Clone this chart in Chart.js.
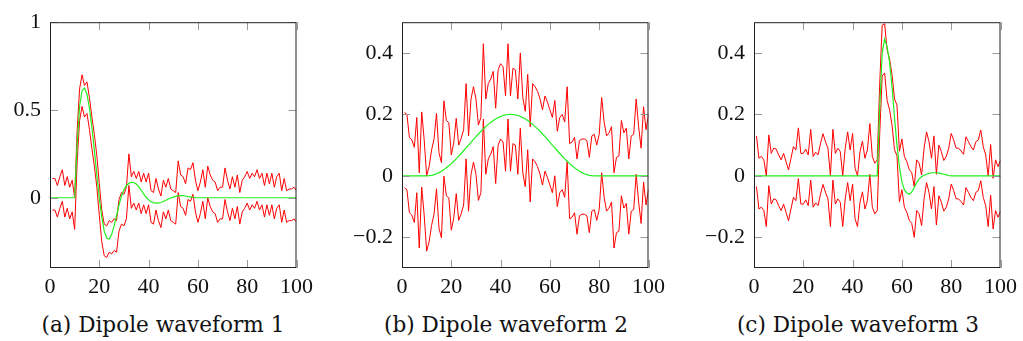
<!DOCTYPE html>
<html>
<head>
<meta charset="utf-8">
<script src="https://cdn.jsdelivr.net/npm/chart.js@4.4.0/dist/chart.umd.min.js"></script>
<style>
  body { margin: 0; background: #fff; }
  #wrap { position: relative; width: 1023px; height: 341px; overflow: hidden; }
  canvas { position: absolute; top: 0; }
  .cap { position: absolute; top: 313px; font-family: "DejaVu Serif", serif; font-size: 21.6px;
         line-height: 24px; color: #111; white-space: nowrap; transform: translateX(-50%); }
</style>
</head>
<body>
<div id="wrap">
  <canvas id="chA"></canvas>
  <canvas id="chB"></canvas>
  <canvas id="chC"></canvas>
  <div class="cap" id="capA"></div>
  <div class="cap" id="capB"></div>
  <div class="cap" id="capC"></div>
</div>
<script>
// tick labels and captions
const xTicks = [0, 20, 40, 60, 80, 100];
const yTicksA = [0, 0.5, 1];
const yTicksBC = [-0.2, 0, 0.2, 0.4];
const captions = ['(a) Dipole waveform 1', '(b) Dipole waveform 2', '(c) Dipole waveform 3'];

// green waveforms, x = 0..100
const greenA = [
  0, 0, 0, 0, 0, 0, 0, 0, 0, 0,
  0, 0.30, 0.52, 0.61, 0.625, 0.59, 0.51, 0.40, 0.27, 0.13,
  0.0, -0.11, -0.19, -0.23, -0.235, -0.21, -0.16, -0.10, -0.04, 0.01,
  0.045, 0.07, 0.083, 0.088, 0.087, 0.078, 0.063, 0.043, 0.022, 0.003,
  -0.012, -0.022, -0.028, -0.031, -0.03, -0.027, -0.021, -0.014, -0.007, -0.001,
  0.004, 0.008, 0.011, 0.012, 0.012, 0.01, 0.007, 0.005, 0.003, 0.001,
  0, 0, 0, 0, 0, 0, 0, 0, 0, 0,
  0, 0, 0, 0, 0, 0, 0, 0, 0, 0,
  0, 0, 0, 0, 0, 0, 0, 0, 0, 0,
  0, 0, 0, 0, 0, 0, 0, 0, 0, 0,
  0
];
const greenB = [
  0, 0, 0, 0, 0, 0, 0, 0, 0, 0,
  0, 0.0004, 0.0017, 0.0038, 0.0068, 0.0105, 0.015, 0.0202, 0.0261, 0.0326,
  0.0397, 0.0474, 0.0554, 0.0639, 0.0726, 0.0816, 0.0908, 0.1, 0.1092, 0.1184,
  0.1274, 0.1361, 0.1446, 0.1526, 0.1603, 0.1674, 0.1739, 0.1798, 0.185, 0.1895,
  0.1932, 0.1962, 0.1983, 0.1996, 0.2, 0.1996, 0.1983, 0.1962, 0.1932, 0.1895,
  0.185, 0.1798, 0.1739, 0.1674, 0.1603, 0.1526, 0.1446, 0.1361, 0.1274, 0.1184,
  0.1092, 0.1, 0.0908, 0.0816, 0.0726, 0.0639, 0.0554, 0.0474, 0.0397, 0.0326,
  0.0261, 0.0202, 0.015, 0.0105, 0.0068, 0.0038, 0.0017, 0.0004, 0, 0,
  0, 0, 0, 0, 0, 0, 0, 0, 0, 0,
  0, 0, 0, 0, 0, 0, 0, 0, 0, 0,
  0
];
const greenC = [
  0, 0, 0, 0, 0, 0, 0, 0, 0, 0,
  0, 0, 0, 0, 0, 0, 0, 0, 0, 0,
  0, 0, 0, 0, 0, 0, 0, 0, 0, 0,
  0, 0, 0, 0, 0, 0, 0, 0, 0, 0,
  0, 0, 0, 0, 0, 0, 0, 0, 0, 0,
  0, 0.22, 0.40, 0.445, 0.42, 0.37, 0.29, 0.19, 0.10, 0.03,
  -0.02, -0.045, -0.056, -0.06, -0.052, -0.038, -0.022, -0.01, -0.003, 0.002,
  0.005, 0.008, 0.01, 0.01, 0.01, 0.009, 0.007, 0.005, 0.003, 0.001,
  0, 0, 0, 0, 0, 0, 0, 0, 0, 0,
  0, 0, 0, 0, 0, 0, 0, 0, 0, 0,
  0
];

// red bounds, x = 1..100
const upperA = [
  0.11, 0.11, 0.07, 0.12, 0.16, 0.07, 0.12, 0.06, 0.10, 0.00,
  0.38, 0.62, 0.70, 0.64, 0.66, 0.57, 0.46, 0.36, 0.24, 0.08,
  -0.07, -0.15, -0.16, -0.13, -0.14, -0.12, -0.13, -0.01, 0.03, 0.02,
  0.06, 0.25, 0.12, 0.15, 0.11, 0.15, 0.09, 0.14, 0.09, 0.14,
  0.04, 0.03, 0.11, 0.05, 0.01, 0.10, 0.06, 0.11, 0.05, 0.04,
  0.03, 0.21, 0.13, 0.12, 0.08, 0.17, 0.16, 0.20, 0.10, 0.04,
  0.09, 0.16, 0.06, 0.18, 0.13, 0.10, 0.09, 0.04, 0.06, 0.06,
  0.17, 0.10, 0.05, 0.12, 0.06, 0.13, 0.03, 0.10, 0.12, 0.15,
  0.11, 0.14, 0.12, 0.16, 0.11, 0.14, 0.07, 0.14, 0.08, 0.14,
  0.06, 0.12, 0.14, 0.04, 0.11, 0.04, 0.05, 0.05, 0.06, 0.04
];
const lowerA = [
  -0.07, -0.07, -0.11, -0.06, -0.02, -0.11, -0.06, -0.12, -0.08, -0.18,
  0.20, 0.44, 0.52, 0.46, 0.48, 0.39, 0.28, 0.18, 0.06, -0.10,
  -0.25, -0.33, -0.34, -0.31, -0.32, -0.30, -0.31, -0.19, -0.15, -0.16,
  -0.12, 0.07, -0.06, -0.03, -0.07, -0.03, -0.09, -0.04, -0.09, -0.04,
  -0.14, -0.15, -0.07, -0.13, -0.17, -0.08, -0.12, -0.07, -0.13, -0.14,
  -0.15, 0.03, -0.05, -0.06, -0.10, -0.01, -0.02, 0.02, -0.08, -0.14,
  -0.09, -0.02, -0.12, 0.00, -0.05, -0.08, -0.09, -0.14, -0.12, -0.12,
  -0.01, -0.08, -0.13, -0.06, -0.12, -0.05, -0.15, -0.08, -0.06, -0.03,
  -0.07, -0.04, -0.06, -0.02, -0.07, -0.04, -0.11, -0.04, -0.10, -0.04,
  -0.12, -0.06, -0.04, -0.14, -0.07, -0.14, -0.13, -0.13, -0.12, -0.14
];
const upperB = [
  0.206, 0.20, 0.125, 0.117, 0.093, 0.19, 0.01, 0.208, 0.117, 0.0,
  0.03, 0.084, 0.12, 0.203, 0.075, 0.043, 0.244, 0.18, 0.173, 0.068,
  0.108, 0.187, 0.10, 0.122, 0.15, 0.30, 0.13, 0.25, 0.29, 0.25,
  0.165, 0.19, 0.43, 0.25, 0.30, 0.315, 0.34, 0.22, 0.345, 0.365,
  0.355, 0.26, 0.43, 0.26, 0.35, 0.345, 0.25, 0.40, 0.255, 0.21,
  0.33, 0.16, 0.30, 0.29, 0.275, 0.25, 0.215, 0.26, 0.24, 0.215,
  0.19, 0.245, 0.145, 0.19, 0.20, 0.175, 0.29, 0.105, 0.11, 0.125,
  0.055, 0.115, 0.12, 0.12, 0.115, 0.06, 0.13, 0.135, 0.10, 0.135,
  0.255, 0.175, 0.13, 0.14, 0.16, 0.01, 0.06, 0.065, 0.18, 0.14,
  0.155, 0.055, 0.13, 0.135, 0.25, 0.16, 0.09, 0.225, 0.15, 0.20
];
const lowerB = [
  -0.039, -0.045, -0.12, -0.128, -0.152, -0.055, -0.235, -0.037, -0.128, -0.245,
  -0.215, -0.161, -0.125, -0.042, -0.17, -0.202, -0.001, -0.065, -0.072, -0.177,
  -0.137, -0.058, -0.145, -0.123, -0.095, 0.055, -0.115, 0.005, 0.045, 0.005,
  -0.08, -0.055, 0.185, 0.005, 0.055, 0.07, 0.095, -0.025, 0.10, 0.12,
  0.11, 0.015, 0.185, 0.015, 0.105, 0.10, 0.005, 0.155, 0.01, -0.035,
  0.085, -0.085, 0.055, 0.045, 0.03, 0.005, -0.03, 0.015, -0.005, -0.03,
  -0.055, 0.0, -0.10, -0.055, -0.045, -0.07, 0.045, -0.14, -0.135, -0.12,
  -0.19, -0.13, -0.125, -0.125, -0.13, -0.185, -0.115, -0.11, -0.145, -0.11,
  0.01, -0.07, -0.115, -0.105, -0.085, -0.235, -0.185, -0.18, -0.065, -0.105,
  -0.09, -0.19, -0.115, -0.11, 0.005, -0.085, -0.155, -0.02, -0.095, -0.045
];
const upperC = [
  0.13, 0.057, 0.063, 0.052, 0.0, 0.133, 0.073, 0.09, 0.087, 0.068,
  0.052, 0.073, 0.046, 0.019, 0.057, 0.095, 0.084, 0.156, 0.073, 0.073,
  0.087, 0.068, 0.151, 0.063, 0.077, 0.068, 0.106, 0.137, 0.111, 0.09,
  0.0, 0.151, 0.073, 0.09, 0.079, 0.0, 0.09, 0.143, 0.084, 0.138,
  0.025, 0.0, 0.079, 0.113, 0.057, 0.084, 0.17, 0.063, 0.041, 0.052,
  0.30, 0.49, 0.495, 0.41, 0.38, 0.33, 0.25, 0.23, 0.08, 0.12,
  0.063, 0.046, 0.02, 0.01, -0.035, 0.052, 0.041, 0.003, 0.09, 0.143,
  0.111, 0.057, 0.13, 0.005, 0.10, 0.079, 0.05, 0.063, 0.09, 0.138,
  0.117, 0.09, 0.09, 0.081, 0.07, 0.127, 0.111, 0.095, 0.084, 0.111,
  0.117, 0.149, 0.095, 0.068, 0.0, 0.102, -0.008, 0.052, 0.03, 0.05
];
const lowerC = [
  -0.035, -0.108, -0.102, -0.113, -0.165, -0.032, -0.092, -0.075, -0.078, -0.097,
  -0.113, -0.092, -0.119, -0.146, -0.108, -0.07, -0.081, -0.009, -0.092, -0.092,
  -0.078, -0.097, -0.014, -0.102, -0.088, -0.097, -0.059, -0.028, -0.054, -0.075,
  -0.165, -0.014, -0.092, -0.075, -0.086, -0.165, -0.075, -0.022, -0.081, -0.027,
  -0.14, -0.165, -0.086, -0.052, -0.108, -0.081, 0.005, -0.102, -0.124, -0.113,
  0.135, 0.325, 0.335, 0.245, 0.215, 0.165, 0.085, 0.065, -0.085, -0.045,
  -0.102, -0.119, -0.145, -0.155, -0.2, -0.113, -0.124, -0.162, -0.075, -0.022,
  -0.054, -0.108, -0.035, -0.16, -0.065, -0.086, -0.115, -0.102, -0.075, -0.027,
  -0.048, -0.075, -0.075, -0.084, -0.095, -0.038, -0.054, -0.07, -0.081, -0.054,
  -0.048, -0.016, -0.07, -0.097, -0.165, -0.063, -0.173, -0.113, -0.135, -0.115
];

const TICK_FONT = { family: '"Liberation Serif", serif', size: 22 };

// frame box and pgfplots-like inner tick marks
const framePlugin = {
  id: 'frame',
  afterDatasetsDraw(chart, args, opts) {
    const { ctx, chartArea: a, scales } = chart;
    const L = 8;
    ctx.save();
    ctx.lineWidth = 1;
    ctx.strokeStyle = '#9a9a9a';
    ctx.beginPath();
    opts.xTicks.forEach(v => {
      const px = Math.round(scales.x.getPixelForValue(v)) + 0.5;
      ctx.moveTo(px, a.bottom); ctx.lineTo(px, a.bottom - L);
      ctx.moveTo(px, a.top); ctx.lineTo(px, a.top + L);
    });
    opts.yTicks.forEach(v => {
      const py = Math.round(scales.y.getPixelForValue(v)) + 0.5;
      ctx.moveTo(a.left, py); ctx.lineTo(a.left + L, py);
      ctx.moveTo(a.right, py); ctx.lineTo(a.right - L, py);
    });
    ctx.stroke();
    ctx.strokeStyle = '#222';
    ctx.strokeRect(a.left + 0.5, a.top + 0.5, a.width - 1, a.height - 1);
    ctx.restore();
  }
};

function fmt(v) {
  const s = String(Math.round(v * 10) / 10);
  return v < 0 ? '\u2212' + s.slice(1) : s;
}

function toPts(arr, x0) {
  return arr.map((v, i) => ({ x: x0 + i, y: v }));
}

function makeChart(id, left, axisW, green, upper, lower, yMin, yMax, yTicks) {
  const plotW = 247, rightPad = 22, H = 300;
  const cv = document.getElementById(id);
  const W = axisW + plotW + rightPad;
  cv.width = W; cv.height = H;
  cv.style.left = left + 'px';
  cv.style.width = W + 'px'; cv.style.height = H + 'px';
  return new Chart(cv.getContext('2d'), {
    type: 'line',
    data: {
      datasets: [
        { data: toPts(green, 0), borderColor: '#1ef01e', borderWidth: 1.2 },
        { data: toPts(upper, 1), borderColor: '#ff0000', borderWidth: 1 },
        { data: toPts(lower, 1), borderColor: '#ff0000', borderWidth: 1 }
      ]
    },
    options: {
      responsive: false,
      animation: false,
      devicePixelRatio: 1,
      layout: { padding: { left: 0, top: 22, right: rightPad, bottom: 0 } },
      elements: { point: { radius: 0 }, line: { tension: 0 } },
      plugins: {
        legend: { display: false },
        tooltip: { enabled: false },
        frame: { xTicks: xTicks, yTicks: yTicks }
      },
      scales: {
        x: {
          type: 'linear', min: 0, max: 100,
          afterBuildTicks: s => { s.ticks = xTicks.map(v => ({ value: v })); },
          afterFit: s => { s.height = 32; },
          grid: { display: false, drawTicks: false },
          border: { display: false },
          ticks: { color: '#111', font: TICK_FONT, padding: 6, maxRotation: 0, callback: v => fmt(v) }
        },
        y: {
          type: 'linear', min: yMin, max: yMax,
          afterBuildTicks: s => { s.ticks = yTicks.map(v => ({ value: v })); },
          afterFit: s => { s.width = axisW; },
          grid: { display: false, drawTicks: false },
          border: { display: false },
          ticks: { color: '#111', font: TICK_FONT, padding: 9, callback: v => fmt(v) }
        }
      }
    },
    plugins: [framePlugin]
  });
}

makeChart('chA', 0, 50, greenA, upperA, lowerA, -0.4, 1, yTicksA);
makeChart('chB', 342, 60, greenB, upperB, lowerB, -0.3, 0.5, yTicksBC);
makeChart('chC', 694, 60, greenC, upperC, lowerC, -0.3, 0.5, yTicksBC);

const capX = [163, 506, 858];
['capA', 'capB', 'capC'].forEach((id, i) => {
  const el = document.getElementById(id);
  el.textContent = captions[i];
  el.style.left = capX[i] + 'px';
});
</script>
</body>
</html>
